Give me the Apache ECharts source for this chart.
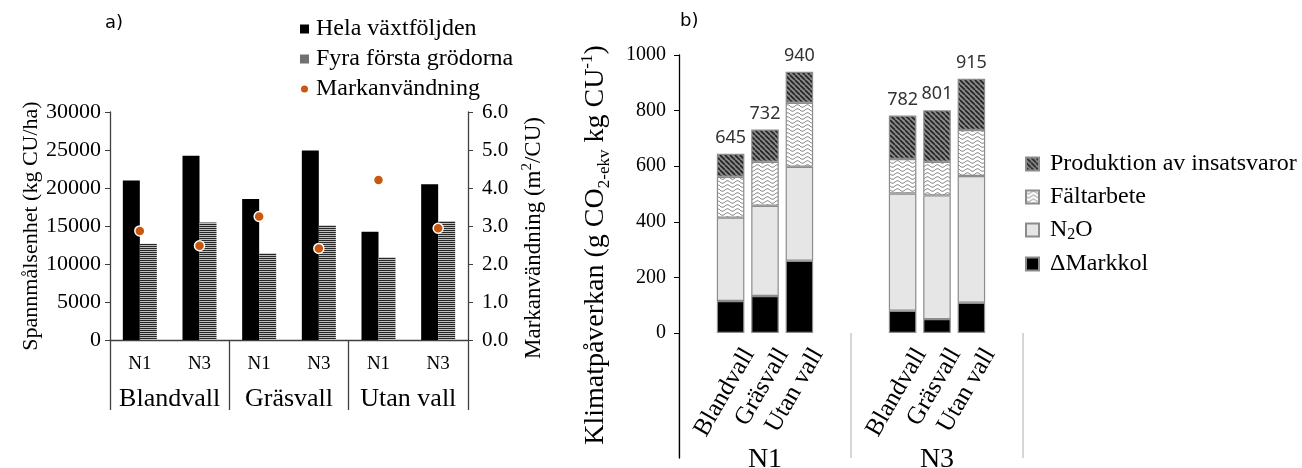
<!DOCTYPE html>
<html><head><meta charset="utf-8">
<script src="https://cdn.jsdelivr.net/npm/echarts@6/dist/echarts.min.js"></script>
<style>html,body{margin:0;padding:0;background:#fff}#c{width:1302px;height:468px}</style>
</head><body><div id="c"></div>
<script>
// ---- Panel a) data ----
const groups = ['Blandvall', 'Gräsvall', 'Utan vall'];
const leftCategories = ['N1', 'N3', 'N1', 'N3', 'N1', 'N3'];
const helaVaxtfoljden = [21000, 24250, 18550, 24950, 14250, 20500];
const fyraForstaGrodorna = [12650, 15450, 11400, 15100, 10900, 15650];
const markanvandning = [2.87, 2.48, 3.25, 2.41, 4.21, 2.94];
const leftAxisTicks = [0, 30000, 5000];     // min, max, step
const rightAxisTicks = [0, 6, 1];

// ---- Panel b) data ----
const nLevels = ['N1', 'N3'];
const rightCategories = ['', 'Blandvall', 'Gräsvall', 'Utan vall', '', '', 'Blandvall', 'Gräsvall', 'Utan vall', ''];
const slotIndex = [null, 0, 1, 2, null, null, 3, 4, 5, null];
const markkol = [115, 133, 260, 80, 50, 109];
const n2o = [300, 325, 338, 422, 445, 456];
const faltarbete = [147, 158, 230, 124, 121, 165];
const produktion = [83, 116, 112, 156, 185, 185];
const totals = [645, 732, 940, 782, 801, 915];
const climateAxisTicks = [0, 1000, 200];

const toSlots = arr => slotIndex.map(i => i === null ? '-' : arr[i]);

// ---- patterns ----
function mk(w, h, draw) { const c = document.createElement('canvas'); c.width = w; c.height = h; draw(c.getContext('2d'), w, h); return c; }
const stripe = mk(2, 2, (g) => { g.fillStyle = '#bdbdbd'; g.fillRect(0, 0, 2, 2); g.fillStyle = '#262626'; g.fillRect(0, 0, 2, 1); });
const wave = mk(10, 4, (g, w, h) => { g.fillStyle = '#fff'; g.fillRect(0, 0, w, h); g.strokeStyle = '#8a8a8a'; g.lineWidth = 1; g.beginPath();
  for (let x = 0; x <= w; x++) { const y = 2 + 1.3 * Math.sin(2 * Math.PI * x / w); if (x === 0) g.moveTo(x, y); else g.lineTo(x, y); } g.stroke(); });
const hatch = mk(5, 5, (g, w, h) => { g.fillStyle = '#8a8a8a'; g.fillRect(0, 0, w, h); g.strokeStyle = '#222'; g.lineWidth = 1.6; g.beginPath();
  for (const k of [-5, 0, 5]) { g.moveTo(k, 0); g.lineTo(k + 5, 5); } g.stroke(); });

const serif = 'Liberation Serif';
const plain = v => String(v);
const chart = echarts.init(document.getElementById('c'));
const barBorder = { borderColor: '#8c8c8c', borderWidth: 1.2 };

chart.setOption({
  animation: false,
  title: [
    { text: 'a)', left: 100, top: 9, textStyle: { fontFamily: 'DejaVu Sans', fontSize: 18, fontWeight: 'normal', color: '#000' } },
    { text: 'b)', left: 675, top: 7, textStyle: { fontFamily: 'DejaVu Sans', fontSize: 18, fontWeight: 'normal', color: '#000' } }
  ],
  legend: [
    { orient: 'vertical', left: 294, top: 12, itemWidth: 9, itemHeight: 9, itemGap: 6,
      textStyle: { fontFamily: serif, fontSize: 24, color: '#000', padding: [0, 0, 0, 2] },
      data: [{ name: 'Hela växtföljden', icon: 'rect' }, { name: 'Fyra första grödorna', icon: 'rect' }, { name: 'Markanvändning', icon: 'circle' }] },
    { orient: 'vertical', left: 1020, top: 147, itemWidth: 13, itemHeight: 13, itemGap: 9,
      textStyle: { fontFamily: serif, fontSize: 24, color: '#000', padding: [0, 0, 0, 6],
        rich: { n: { fontFamily: serif, fontSize: 24, color: '#000' }, s: { fontFamily: serif, fontSize: 16, color: '#000', verticalAlign: 'bottom', padding: [10, 0, 0, 0] } } },
      formatter: name => name === 'N2O' ? '{n|N}{s|2}{n|O}' : name,
      data: [{ name: 'Produktion av insatsvaror', icon: 'rect' }, { name: 'Fältarbete', icon: 'rect' }, { name: 'N2O', icon: 'rect' }, { name: 'ΔMarkkol', icon: 'rect' }] }
  ],
  grid: [
    { left: 110, top: 112, width: 358, height: 228, outerBoundsMode: 'none' },
    { left: 679, top: 55, width: 344, height: 278, outerBoundsMode: 'none' },
    { left: 679, top: 333, width: 344, height: 125, outerBoundsMode: 'none' }
  ],
  xAxis: [
    { gridIndex: 0, type: 'category', data: leftCategories, position: 'bottom',
      axisLine: { lineStyle: { color: '#404040', width: 1.3 } }, axisTick: { show: false },
      axisLabel: { interval: 0, margin: 15, fontFamily: serif, fontSize: 19, color: '#000' } },
    { gridIndex: 0, type: 'category', data: groups, position: 'bottom',
      axisLine: { show: false },
      axisTick: { show: true, alignWithLabel: false, interval: 0, length: 70, lineStyle: { color: '#404040', width: 1.3 } },
      axisLabel: { interval: 0, margin: 46, fontFamily: serif, fontSize: 26, color: '#000' } },
    { gridIndex: 1, type: 'category', data: rightCategories, position: 'bottom',
      axisLine: { show: false }, axisTick: { show: false },
      axisLabel: { interval: 0, rotate: 60, align: 'right', verticalAlign: 'top', padding: [0, -15, 0, 0], margin: 24,
        fontFamily: serif, fontSize: 25, color: '#000' } },
    { gridIndex: 2, type: 'category', data: nLevels, position: 'bottom',
      axisLine: { show: false }, axisTick: { show: false },
      splitLine: { show: true, interval: 0, lineStyle: { color: '#c8c8c8', width: 1.5 } },
      axisLabel: { interval: 0, margin: -12, fontFamily: serif, fontSize: 28, color: '#000' } }
  ],
  yAxis: [
    { gridIndex: 0, type: 'value', min: leftAxisTicks[0], max: leftAxisTicks[1], interval: leftAxisTicks[2], position: 'left',
      name: 'Spannmålsenhet (kg CU/ha)', nameLocation: 'middle', nameGap: 68, nameMoveOverlap: false,
      nameTextStyle: { fontFamily: serif, fontSize: 22, color: '#000' },
      axisLine: { show: true, lineStyle: { color: '#404040', width: 1.3 } },
      axisTick: { show: true, length: 5, lineStyle: { color: '#404040' } }, splitLine: { show: false },
      axisLabel: { margin: 9, fontFamily: serif, fontSize: 22, color: '#000', formatter: plain } },
    { gridIndex: 0, type: 'value', min: rightAxisTicks[0], max: rightAxisTicks[1], interval: rightAxisTicks[2], position: 'right',
      name: 'Markanvändning (m{sup|2}/CU)', nameLocation: 'middle', nameGap: 52, nameMoveOverlap: false,
      nameTextStyle: { fontFamily: serif, fontSize: 23, color: '#000', padding: [0, 24, 0, 0], lineHeight: 28,
        rich: { sup: { fontFamily: serif, fontSize: 15, color: '#000', verticalAlign: 'top', lineHeight: 14 } } },
      axisLine: { show: true, lineStyle: { color: '#404040', width: 1.3 } },
      axisTick: { show: true, length: 5, lineStyle: { color: '#404040' } }, splitLine: { show: false },
      axisLabel: { margin: 14, fontFamily: serif, fontSize: 21, color: '#000', formatter: v => v.toFixed(1) } },
    { gridIndex: 1, type: 'value', min: climateAxisTicks[0], max: climateAxisTicks[1], interval: climateAxisTicks[2],
      name: 'Klimatpåverkan (g CO{sub|2-ekv} kg CU{sup|-1})', nameLocation: 'middle', nameGap: 66, nameMoveOverlap: false,
      nameTextStyle: { fontFamily: serif, fontSize: 28, color: '#000', padding: [0, 102, 0, 0], lineHeight: 34,
        rich: { sub: { fontFamily: serif, fontSize: 17, color: '#000', verticalAlign: 'bottom', lineHeight: 17 },
                sup: { fontFamily: serif, fontSize: 17, color: '#000', verticalAlign: 'top', lineHeight: 17 } } },
      axisLine: { show: true, lineStyle: { color: '#000', width: 1.3 } },
      axisTick: { show: true, length: 5, lineStyle: { color: '#000' } }, splitLine: { show: false },
      axisLabel: { margin: 13, fontFamily: serif, fontSize: 20, color: '#000', formatter: plain } },
    { gridIndex: 2, type: 'value', z: 5,
      axisLine: { show: true, lineStyle: { color: '#000', width: 1.3 } },
      axisTick: { show: false }, axisLabel: { show: false }, splitLine: { show: false } }
  ],
  series: [
    { name: 'Hela växtföljden', type: 'bar', xAxisIndex: 0, yAxisIndex: 0, data: helaVaxtfoljden,
      barGap: '0%', barCategoryGap: '43%', itemStyle: { color: '#000' } },
    { name: 'Fyra första grödorna', type: 'bar', xAxisIndex: 0, yAxisIndex: 0, data: fyraForstaGrodorna,
      barGap: '0%', barCategoryGap: '43%', itemStyle: { color: { image: stripe, repeat: 'repeat' } } },
    { name: 'Markanvändning', type: 'scatter', xAxisIndex: 0, yAxisIndex: 1, data: markanvandning, z: 5,
      symbolSize: 10, itemStyle: { color: '#c8580f', borderColor: '#fff', borderWidth: 1.5, opacity: 1 } },

    { name: 'ΔMarkkol', type: 'bar', stack: 'b', xAxisIndex: 2, yAxisIndex: 2, data: toSlots(markkol),
      barCategoryGap: '20%', itemStyle: Object.assign({ color: '#000' }, barBorder) },
    { name: 'N2O', type: 'bar', stack: 'b', xAxisIndex: 2, yAxisIndex: 2, data: toSlots(n2o),
      barCategoryGap: '20%', itemStyle: Object.assign({ color: '#e6e6e6' }, barBorder) },
    { name: 'Fältarbete', type: 'bar', stack: 'b', xAxisIndex: 2, yAxisIndex: 2, data: toSlots(faltarbete),
      barCategoryGap: '20%', itemStyle: Object.assign({ color: { image: wave, repeat: 'repeat' } }, barBorder) },
    { name: 'Produktion av insatsvaror', type: 'bar', stack: 'b', xAxisIndex: 2, yAxisIndex: 2, data: toSlots(produktion),
      barCategoryGap: '20%', itemStyle: Object.assign({ color: { image: hatch, repeat: 'repeat' } }, barBorder),
      label: { show: true, position: 'top', distance: 7, fontFamily: 'Noto Sans', fontSize: 18, color: '#333',
        formatter: p => String(totals[slotIndex[p.dataIndex]]) } }
  ]
});
</script></body></html>
